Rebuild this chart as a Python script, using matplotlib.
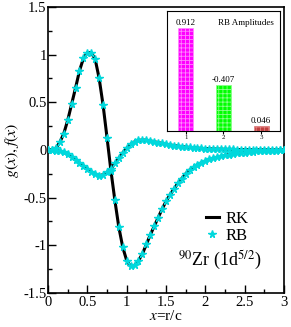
import matplotlib
matplotlib.use("Agg")
import matplotlib.pyplot as plt
import numpy as np
from matplotlib.ticker import MultipleLocator

plt.rcParams['font.family'] = ['Liberation Serif', 'DejaVu Serif']
plt.rcParams['mathtext.fontset'] = 'stix'
plt.rcParams['hatch.linewidth'] = 0.6

# x grid (r/c)
x = np.arange(0, 61) * 0.05

# g(x) - large component
g = [0.0, 0.002, 0.02, 0.08, 0.17, 0.31, 0.48, 0.65, 0.83, 0.96,
     1.02, 1.02, 0.95, 0.75, 0.47, 0.13, -0.22, -0.53, -0.81, -1.02,
     -1.16, -1.22, -1.21, -1.16, -1.09, -0.99, -0.89, -0.80, -0.71, -0.62,
     -0.54, -0.47, -0.41, -0.35, -0.30, -0.25, -0.21, -0.18, -0.155, -0.135,
     -0.12, -0.10, -0.087, -0.077, -0.066, -0.057, -0.049, -0.042, -0.036, -0.031,
     -0.027, -0.023, -0.019, -0.016, -0.013, -0.011, -0.009, -0.007, -0.006, -0.005,
     -0.004]

# f(x) - small component
f = [0.0, -0.002, -0.006, -0.013, -0.025, -0.045, -0.075, -0.105, -0.14, -0.17,
     -0.20, -0.23, -0.255, -0.27, -0.26, -0.235, -0.195, -0.14, -0.085, -0.03,
     0.02, 0.06, 0.085, 0.10, 0.104, 0.102, 0.095, 0.086, 0.077, 0.068,
     0.06, 0.053, 0.046, 0.04, 0.035, 0.03, 0.026, 0.022, 0.019, 0.016,
     0.014, 0.012, 0.010, 0.009, 0.008, 0.007, 0.006, 0.005, 0.004, 0.004,
     0.003, 0.003, 0.002, 0.002, 0.002, 0.001, 0.001, 0.001, 0.001, 0.0,
     0.0]

xticks = [0, 0.5, 1, 1.5, 2, 2.5, 3]
xtick_labels = ['0', '0.5', '1', '1.5', '2', '2.5', '3']
yticks = [-1.5, -1, -0.5, 0, 0.5, 1, 1.5]
ytick_labels = ['-1.5', '-1', '-0.5', '0', '0.5', '1', '1.5']

# RB amplitudes (inset)
amp_idx = [1, 2, 3]
amp_val = [0.912, -0.407, 0.046]
amp_colors = ['#ff00ff', '#00ff00', '#c04040']
amp_hatch_colors = ['#ff88ff', '#88ff88', '#e08080']

cyan = '#00d8dc'

fig = plt.figure(figsize=(2.91, 3.27), dpi=100)
ax = fig.add_axes([0.165, 0.104, 0.811, 0.875])

ax.plot(x, g, color='k', lw=2.2, label='RK', zorder=2)
ax.plot(x, f, color='k', lw=2.2, zorder=2)
ax.plot(x, g, ls='none', marker='*', ms=5.5, color=cyan, label='RB', zorder=3)
ax.plot(x, f, ls='none', marker='*', ms=5.5, color=cyan, zorder=3)

ax.set_xlim(0, 3)
ax.set_ylim(-1.5, 1.5)
ax.set_xticks(xticks)
ax.set_xticklabels(xtick_labels)
ax.set_yticks(yticks)
ax.set_yticklabels(ytick_labels)
ax.xaxis.set_minor_locator(MultipleLocator(0.25))
ax.yaxis.set_minor_locator(MultipleLocator(0.25))
ax.tick_params(which='both', direction='in', top=False, right=False, labelsize=10.5)
ax.tick_params(axis='x', pad=2)
ax.tick_params(axis='y', pad=1)
ax.tick_params(which='major', length=6, width=1)
ax.tick_params(which='minor', length=3, width=1)
for s in ax.spines.values():
    s.set_linewidth(1.2)

ax.set_xlabel('$x$=r/c', fontsize=11, labelpad=0)
ax.set_ylabel('$g(x), f(x)$', fontsize=11.5, labelpad=2)

ax.legend(loc='lower right', bbox_to_anchor=(0.9, 0.13), frameon=False,
          fontsize=12, handlelength=0.8, handletextpad=0.4, labelspacing=0.05,
          borderpad=0.2)
ax.text(0.905, 0.115, r'$^{90}$Zr (1d$^{5/2}$)', transform=ax.transAxes,
        ha='right', va='center', fontsize=13)

# inset with RB amplitudes
axi = fig.add_axes([0.574, 0.599, 0.388, 0.367])
for i, v, c, hc in zip(amp_idx, amp_val, amp_colors, amp_hatch_colors):
    axi.bar(i, abs(v), width=0.4, color=c, edgecolor=hc, hatch='++++', lw=0.5)
    axi.text(i, abs(v) + 0.01, f'{v:.3f}', ha='center', va='bottom', fontsize=6.5)
axi.set_xlim(0.5, 3.5)
axi.set_ylim(0, 1.06)
axi.set_xticks(amp_idx)
axi.set_xticklabels(['1', '2', '3'])
axi.set_yticks([])
axi.tick_params(axis='x', direction='out', length=2, labelsize=5, pad=1)
axi.text(0.95, 0.9, 'RB Amplitudes', transform=axi.transAxes,
         ha='right', va='center', fontsize=6.5)

fig.savefig('out.png', dpi=100)
